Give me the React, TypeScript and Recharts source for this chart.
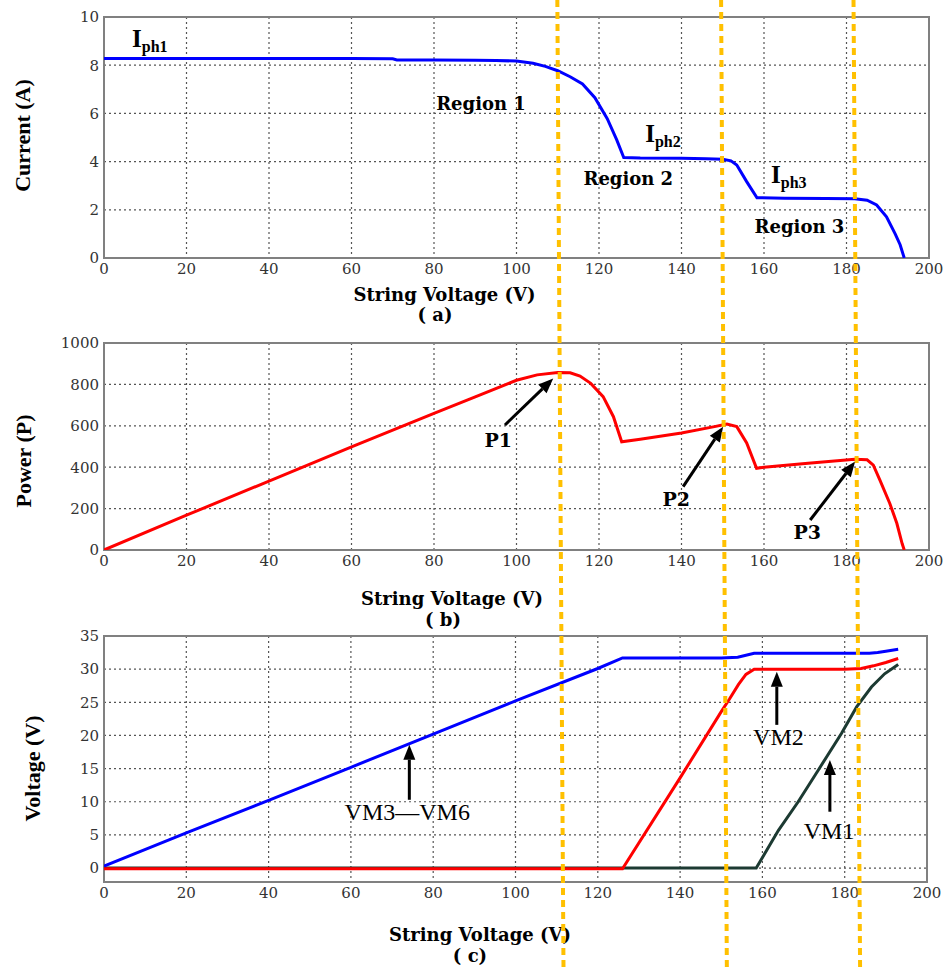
import React from 'react';
import { LineChart, Line, XAxis, YAxis, CartesianGrid, ReferenceLine, ReferenceDot, ReferenceArea } from 'recharts';

// ---------- ticks ----------
const xTicks = [0, 20, 40, 60, 80, 100, 120, 140, 160, 180, 200];
const currentTicks = [0, 2, 4, 6, 8, 10];
const powerTicks = [0, 200, 400, 600, 800, 1000];
const moduleTicks = [0, 5, 10, 15, 20, 25, 30, 35];

// ---------- (a) I-V curve ----------
const ivVoltage = [0, 10, 20, 30, 40, 50, 60, 70, 71, 80, 90, 95, 100, 104, 107, 110, 113, 116, 119, 122, 124.3, 126, 130, 140, 146, 150, 152, 153.4, 155.8, 158.3, 165, 175, 182, 185, 187.3, 189.7, 191.8, 193, 194];
const ivCurrent = [8.28, 8.28, 8.28, 8.28, 8.28, 8.28, 8.28, 8.27, 8.22, 8.22, 8.21, 8.2, 8.17, 8.08, 7.95, 7.77, 7.52, 7.22, 6.65, 5.78, 4.9, 4.17, 4.15, 4.14, 4.12, 4.1, 4.03, 3.86, 3.17, 2.5, 2.48, 2.47, 2.46, 2.4, 2.2, 1.71, 1.0, 0.55, 0];

// ---------- (b) P-V curve ----------
const pvVoltage = [0, 20, 40, 60, 80, 90, 100, 105, 110, 113, 115.4, 118, 121, 123.5, 125.5, 130, 140, 148, 151, 153.4, 155.8, 158.2, 160, 170, 182, 185, 186.5, 188.1, 190.5, 192.2, 193.5, 194];
const pvPower = [0, 168, 333, 498, 660, 740, 820, 846, 857, 856, 840, 805, 741, 644, 523, 535, 565, 596, 608, 596, 517, 395, 400, 418, 438, 436, 410, 338, 225, 129, 30, 0];

// ---------- (c) module voltages ----------
const vm36Voltage = [0, 20, 40, 60, 80, 100, 120, 126, 140, 150, 154, 158, 170, 180, 186, 188, 190, 193];
const vm36Values = [0.3, 5.3, 10.2, 15.2, 20.2, 25.2, 30.1, 31.7, 31.7, 31.7, 31.8, 32.4, 32.4, 32.4, 32.4, 32.5, 32.7, 33.0];
const vm2Voltage = [0, 126, 140, 150, 152, 154.2, 156, 158, 170, 180, 184, 187, 190, 193];
const vm2Values = [-0.1, -0.1, 13.6, 23.6, 25.5, 27.7, 29.2, 30.0, 30.0, 30.0, 30.1, 30.5, 31.0, 31.6];
const vm1Voltage = [0, 158.5, 163.9, 168.7, 173.6, 179.2, 182.9, 186.5, 189.7, 193];
const vm1Values = [0, 0, 5.7, 10.0, 14.8, 20.3, 24.3, 27.3, 29.3, 30.7];

// ---------- MPP guide lines (voltage at top and bottom of the figure) ----------
const mppTopVoltage = [109.9, 149.6, 181.7];
const mppBottomVoltage = [111.4, 151.0, 183.3];

// ---------- annotations ----------
const regionLabels = [
  { text: 'Region 1', x: 91.4, y: 6.14 },
  { text: 'Region 2', x: 127.1, y: 3.03 },
  { text: 'Region 3', x: 168.6, y: 1.02 },
];
const iphLabels = [
  { sub: 'ph1', x: 6.8, y: 8.76 },
  { sub: 'ph2', x: 131.2, y: 4.81 },
  { sub: 'ph3', x: 161.7, y: 3.11 },
];
const peakLabels = [
  { text: 'P1', x: 95.6, y: 499 },
  { text: 'P2', x: 138.7, y: 213 },
  { text: 'P3', x: 170.5, y: 52 },
];
const peakArrowFrom = [[97.2, 604], [140.4, 306], [171.2, 145]];
const peakArrowTo = [[108.9, 829], [150.1, 596], [182.1, 427]];
const moduleLabels = [
  { text: 'VM3\u2014VM6', x: 73.7, y: 7.24 },
  { text: 'VM2', x: 163.9, y: 18.55 },
  { text: 'VM1', x: 176.2, y: 4.33 },
];
const moduleArrowFrom = [[74.2, 10.3], [163.5, 21.6], [176.4, 8.5]];
const moduleArrowTo = [[74.2, 18.6], [163.5, 29.6], [176.4, 16.3]];

const zip = (xs: number[], ys: number[]) => xs.map((x, i) => ({ x, y: ys[i] }));
const ivData = zip(ivVoltage, ivCurrent);
const pvData = zip(pvVoltage, pvPower);
const vm36Data = zip(vm36Voltage, vm36Values);
const vm2Data = zip(vm2Voltage, vm2Values);
const vm1Data = zip(vm1Voltage, vm1Values);

const WIDE = "'DejaVu Serif', serif";
const TIMES = "'Liberation Serif', 'Times New Roman', serif";
const tickStyle = { fontFamily: WIDE, fontSize: 15, fill: '#333' };
const GRID = '#555';
const FRAME = '#808080';

const Arrow = (p: any) => {
  const { x1, y1, x2, y2 } = p;
  const ang = Math.atan2(y2 - y1, x2 - x1);
  const L = 15, W = 6;
  const bx = x2 - L * Math.cos(ang), by = y2 - L * Math.sin(ang);
  const px = -Math.sin(ang) * W, py = Math.cos(ang) * W;
  return (
    <g>
      <line x1={x1} y1={y1} x2={bx} y2={by} stroke="#000" strokeWidth={3} />
      <polygon points={`${x2},${y2} ${bx + px},${by + py} ${bx - px},${by - py}`} fill="#000" />
    </g>
  );
};

const xTitle = (sub: string, dy1: number, dx1: number, dy2: number, dx2: number) => (props: any) => {
  const vb = props.viewBox || {};
  const cx = vb.x + vb.width / 2;
  return (
    <g fontFamily={WIDE} fontWeight="bold" fontSize={18} fill="#000" textAnchor="middle">
      <text x={cx + dx1} y={vb.y + dy1} textAnchor="middle">String Voltage (V)</text>
      <text x={cx + dx2} y={vb.y + dy2} textAnchor="middle">{sub}</text>
    </g>
  );
};

const yTitle = (title: string, x: number, dy: number) => (props: any) => {
  const vb = props.viewBox || {};
  const cy = vb.y + vb.height / 2 + dy;
  return (
    <text x={x} y={cy} transform={`rotate(-90 ${x} ${cy})`} textAnchor="middle" dominantBaseline="central"
      fontFamily={TIMES} fontWeight="bold" fontSize={22} fill="#000">{title}</text>
  );
};

const textShape = (text: string, family: string, size: number, weight: string) => (p: any) => (
  <text x={p.cx} y={p.cy} textAnchor="middle" fontFamily={family} fontSize={size} fontWeight={weight} fill="#000">{text}</text>
);

const iphShape = (sub: string) => (p: any) => (
  <text x={p.cx} y={p.cy} fontFamily={TIMES} fontWeight="bold" fill="#000">
    <tspan fontSize={25}>I</tspan>
    <tspan fontSize={16} dy={5}>{sub}</tspan>
  </text>
);

export default function App() {
  return (
    <div style={{ position: 'absolute', left: 0, top: 0, width: 944, height: 972, background: '#fff', overflow: 'hidden' }}>
      {/* (a) */}
      <div style={{ position: 'absolute', left: 0, top: 0 }}>
        <LineChart width={944} height={340} margin={{ top: 17, right: 15, bottom: 0, left: 0 }}>
          <CartesianGrid stroke={GRID} strokeDasharray="2 3" strokeWidth={1.2} />
          <XAxis dataKey="x" type="number" domain={[0, 200]} ticks={xTicks} height={82} tickLine={false} axisLine={false}
            tickSize={3} tickMargin={2} tick={tickStyle} interval={0} allowDataOverflow
            label={{ content: xTitle('( a)', 43, -72, 63, -81.5) }} />
          <YAxis type="number" domain={[0, 10]} ticks={currentTicks} width={104} tickLine={false} axisLine={false}
            tickSize={3} tickMargin={2} tick={tickStyle} interval={0} allowDataOverflow
            label={{ content: yTitle('Current (A)', 22, -2) }} />
          <ReferenceArea x1={0} x2={200} y1={0} y2={10} fill="none" stroke={FRAME} strokeWidth={2} ifOverflow="visible" />
          <Line data={ivData} dataKey="y" stroke="#0000FF" strokeWidth={3} dot={false} isAnimationActive={false} />
          {regionLabels.map((r) => (
            <ReferenceDot key={r.text} x={r.x} y={r.y} r={1} ifOverflow="visible" shape={textShape(r.text, WIDE, 18, 'bold')} />
          ))}
          {iphLabels.map((r) => (
            <ReferenceDot key={r.sub} x={r.x} y={r.y} r={1} ifOverflow="visible" shape={iphShape(r.sub)} />
          ))}
        </LineChart>
      </div>

      {/* (b) */}
      <div style={{ position: 'absolute', left: 0, top: 320 }}>
        <LineChart width={944} height={320} margin={{ top: 23, right: 15, bottom: 0, left: 0 }}>
          <CartesianGrid stroke={GRID} strokeDasharray="2 3" strokeWidth={1.2} />
          <XAxis dataKey="x" type="number" domain={[0, 200]} ticks={xTicks} height={90} tickLine={false} axisLine={false}
            tickSize={3} tickMargin={2} tick={tickStyle} interval={0} allowDataOverflow
            label={{ content: xTitle('( b)', 55, -64.5, 76, -73.5) }} />
          <YAxis type="number" domain={[0, 1000]} ticks={powerTicks} width={104} tickLine={false} axisLine={false}
            tickSize={3} tickMargin={2} tick={tickStyle} interval={0} allowDataOverflow
            label={{ content: yTitle('Power (P)', 23, 14.5) }} />
          <ReferenceArea x1={0} x2={200} y1={0} y2={1000} fill="none" stroke={FRAME} strokeWidth={2} ifOverflow="visible" />
          <Line data={pvData} dataKey="y" stroke="#FF0000" strokeWidth={3} dot={false} isAnimationActive={false} />
          {peakArrowFrom.map((f, i) => (
            <ReferenceLine key={'pa' + i} segment={[{ x: f[0], y: f[1] }, { x: peakArrowTo[i][0], y: peakArrowTo[i][1] }]}
              ifOverflow="visible" shape={Arrow} />
          ))}
          {peakLabels.map((r) => (
            <ReferenceDot key={r.text} x={r.x} y={r.y} r={1} ifOverflow="visible" shape={textShape(r.text, WIDE, 19, 'bold')} />
          ))}
        </LineChart>
      </div>

      {/* (c) */}
      <div style={{ position: 'absolute', left: 0, top: 620 }}>
        <LineChart width={944} height={352} margin={{ top: 16, right: 17, bottom: 0, left: 0 }}>
          <CartesianGrid stroke={GRID} strokeDasharray="2 3" strokeWidth={1.2} />
          <XAxis dataKey="x" type="number" domain={[0, 200]} ticks={xTicks} height={90} tickLine={false} axisLine={false}
            tickSize={3} tickMargin={2} tick={tickStyle} interval={0} allowDataOverflow
            label={{ content: xTitle('( c)', 59, -35.5, 80, -45.5) }} />
          <YAxis type="number" domain={[-2.1, 35]} ticks={moduleTicks} width={104} tickLine={false} axisLine={false}
            tickSize={3} tickMargin={2} tick={tickStyle} interval={0} allowDataOverflow
            label={{ content: yTitle('Voltage (V)', 32, 9.5) }} />
          <ReferenceArea x1={0} x2={200} y1={-2.1} y2={35} fill="none" stroke={FRAME} strokeWidth={2} ifOverflow="visible" />
          <Line data={vm1Data} dataKey="y" stroke="#1C3A32" strokeWidth={3} dot={false} isAnimationActive={false} />
          <Line data={vm36Data} dataKey="y" stroke="#0000FF" strokeWidth={3} dot={false} isAnimationActive={false} />
          <Line data={vm2Data} dataKey="y" stroke="#FF0000" strokeWidth={3} dot={false} isAnimationActive={false} />
          {moduleArrowFrom.map((f, i) => (
            <ReferenceLine key={'ma' + i} segment={[{ x: f[0], y: f[1] }, { x: moduleArrowTo[i][0], y: moduleArrowTo[i][1] }]}
              ifOverflow="visible" shape={Arrow} />
          ))}
          {moduleLabels.map((r) => (
            <ReferenceDot key={r.text} x={r.x} y={r.y} r={1} ifOverflow="visible" shape={textShape(r.text, TIMES, 24, 'normal')} />
          ))}
        </LineChart>
      </div>

      {/* MPP guide lines spanning all panels */}
      <div style={{ position: 'absolute', left: 0, top: 0, zIndex: 10, pointerEvents: 'none' }}>
        <LineChart width={944} height={972} margin={{ top: 0, right: 15, bottom: 0, left: 104 }}
          data={mppTopVoltage.map((v, i) => ({ x: v, y: mppBottomVoltage[i] }))}>
          <XAxis dataKey="x" type="number" domain={[0, 200]} hide allowDataOverflow />
          <YAxis type="number" domain={[0, 1]} hide width={0} allowDataOverflow />
          {mppTopVoltage.map((v, i) => (
            <ReferenceLine key={'mpp' + i} segment={[{ x: v, y: 1 }, { x: mppBottomVoltage[i], y: 0 }]}
              ifOverflow="visible" stroke="#FFC000" strokeWidth={4} strokeDasharray="7 5" />
          ))}
        </LineChart>
      </div>
    </div>
  );
}
